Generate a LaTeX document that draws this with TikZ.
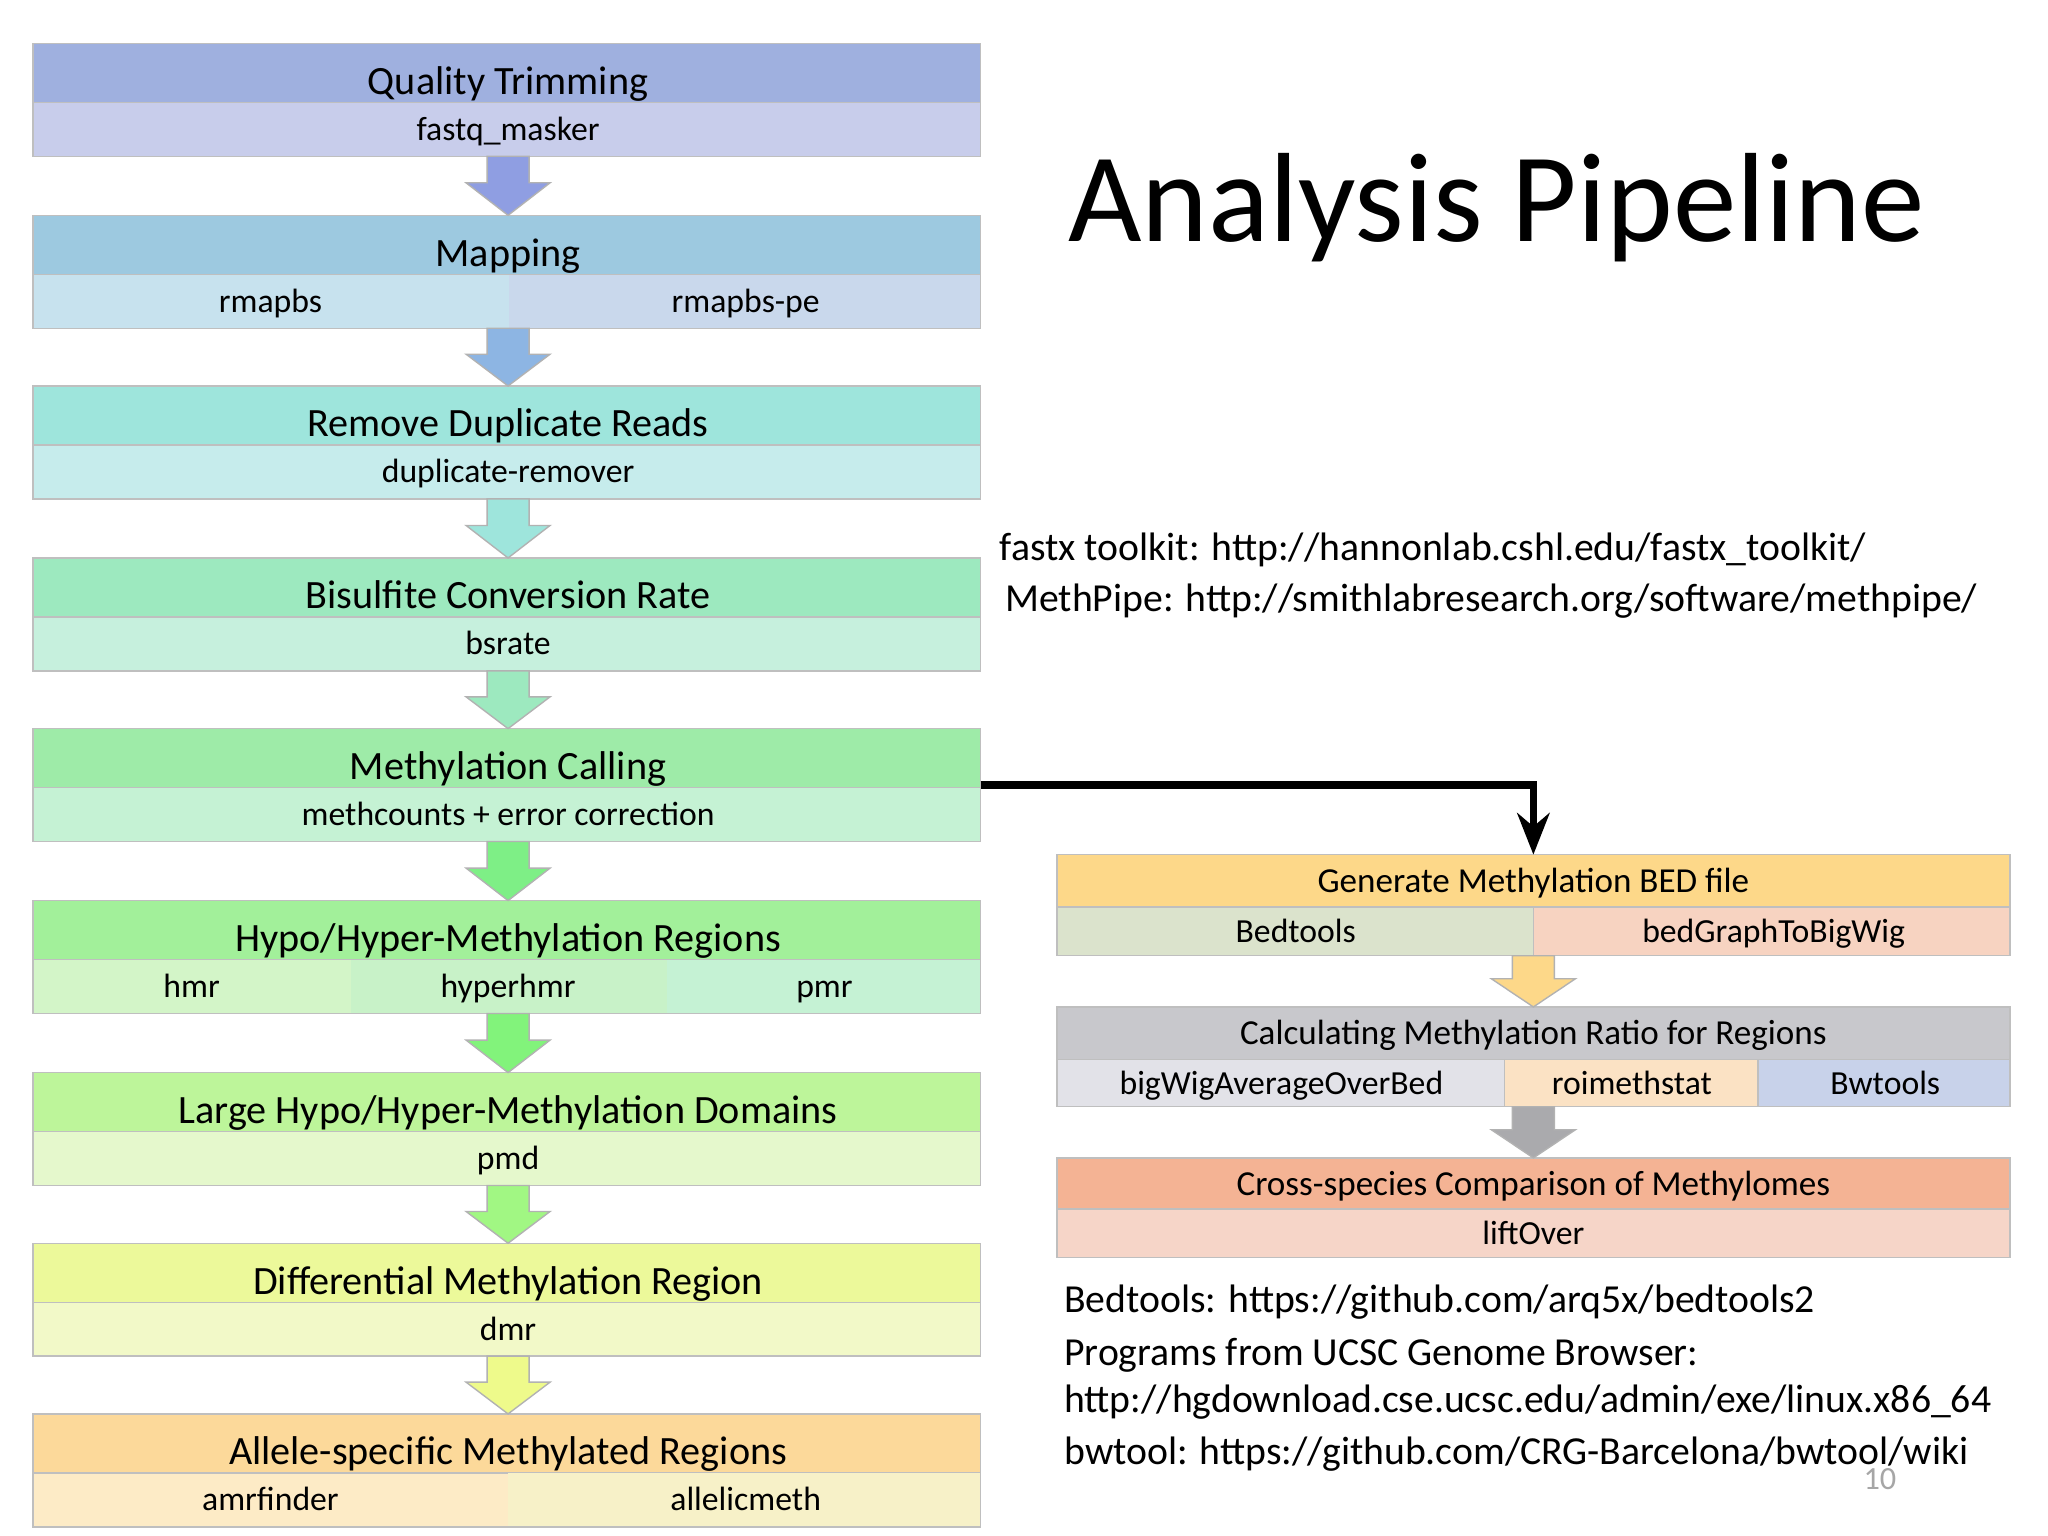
\documentclass[tikz,border=0pt]{standalone}
\usepackage{fontspec}
\usetikzlibrary{arrows.meta}
\setmainfont{Carlito}
\begin{document}
\begin{tikzpicture}[x=0.01cm,y=-0.01cm,
 every node/.style={text height=0.72em,text depth=0.22em},
 hd/.style={font=\fontsize{8.7}{10}\selectfont},
 sb/.style={font=\fontsize{7.3}{9}\selectfont},
 rhd/.style={font=\fontsize{7.6}{9}\selectfont},
 url/.style={font=\fontsize{8.6}{11}\selectfont,anchor=west,inner sep=0},
 bx/.style={draw=black!25,line width=0.3pt}]
\useasboundingbox (0,0) rectangle (1560,1170);
\fill[white] (0,0) rectangle (1560,1170);
\newcommand{\myarrow}[4]{% x, y0, y1, color
 \fill[#4,draw=black!30,line width=0.3pt] ({#1-16},#2) -- ({#1+16},#2) -- ({#1+16},{#2+0.45*(#3-#2)}) -- ({#1+32},{#2+0.45*(#3-#2)}) -- (#1,#3) -- ({#1-32},{#2+0.45*(#3-#2)}) -- ({#1-16},{#2+0.45*(#3-#2)}) -- cycle;}
\newcommand{\lbox}[6]{% top, headcolor, subcolor, name, headtext, subtext
 \fill[#2,bx] (25,#1) rectangle (747,{#1+45});
 \fill[#3,bx] (25,{#1+45}) rectangle (747,{#1+86});
 \node[hd] (#4) at (387,{#1+30}) {#5};
 \node[sb] (#4s) at (387,{#1+65}) {#6};}
\definecolor{h1}{HTML}{9FB0DF}\definecolor{s1}{HTML}{C8CDEB}
\definecolor{h2}{HTML}{9DC9E0}\definecolor{s2}{HTML}{C7E2EE}\definecolor{s2b}{HTML}{C9D8EC}
\definecolor{h3}{HTML}{9EE5DC}\definecolor{s3}{HTML}{C6ECEC}
\definecolor{h4}{HTML}{9DE9BF}\definecolor{s4}{HTML}{C6F0DD}
\definecolor{h5}{HTML}{9EEBA8}\definecolor{s5}{HTML}{C5F2D4}
\definecolor{h6}{HTML}{A2F09A}\definecolor{s6}{HTML}{D3F5C8}\definecolor{s6b}{HTML}{C8F2C8}
\definecolor{h7}{HTML}{BDF59A}\definecolor{s7}{HTML}{E5F8CC}
\definecolor{h8}{HTML}{ECF99A}\definecolor{s8}{HTML}{F2F9C8}
\definecolor{h9}{HTML}{FCD99A}\definecolor{s9}{HTML}{FDEBC6}\definecolor{s9b}{HTML}{F7F1C8}
\lbox{33}{h1}{s1}{b1}{Quality Trimming}{fastq\_masker}
\lbox{164}{h2}{s2}{b2}{Mapping}{}
\fill[s2b] (388,209.3) rectangle (746.7,249.7);
\node[sb] at (206,229) {rmapbs};
\node[sb] at (568,229) {rmapbs-pe};
\lbox{294}{h3}{s3}{b3}{Remove Duplicate Reads}{duplicate-remover}
\lbox{425}{h4}{s4}{b4}{Bisulfite Conversion Rate}{bsrate}
\lbox{555}{h5}{s5}{b5}{Methylation Calling}{methcounts + error correction}
\lbox{686}{h6}{s6}{b6}{Hypo/Hyper-Methylation Regions}{}
\fill[s6b] (267,731.3) rectangle (508,771.7);
\fill[s5] (508,731.3) rectangle (746.7,771.7);
\node[sb] at (146,751) {hmr};
\node[sb] at (387,751) {hyperhmr};
\node[sb] at (628,751) {pmr};
\lbox{817}{h7}{s7}{b7}{Large Hypo/Hyper-Methylation Domains}{pmd}
\lbox{947}{h8}{s8}{b8}{Differential Methylation Region}{dmr}
\lbox{1077}{h9}{s9}{b9}{Allele-specific Methylated Regions}{}
\fill[s9b] (387,1122.3) rectangle (746.7,1162.7);
\node[sb] at (206,1142) {amrfinder};
\node[sb] at (568,1142) {allelicmeth};
\myarrow{387}{119}{164}{h1!90!blue}
\myarrow{387}{250}{294}{h2!90!blue}
\myarrow{387}{380}{425}{h3}
\myarrow{387}{511}{555}{h4}
\myarrow{387}{641}{686}{h5!80!green}
\myarrow{387}{772}{817}{h6!80!green}
\myarrow{387}{903}{947}{h7!85!green}
\myarrow{387}{1033}{1077}{h8!90!yellow}
\definecolor{r1}{HTML}{FDD889}\definecolor{r1a}{HTML}{DBE3CC}\definecolor{r1b}{HTML}{F7D3C1}
\definecolor{r2}{HTML}{C8C8CC}\definecolor{r2a}{HTML}{E2E2E8}\definecolor{r2b}{HTML}{FBE2C4}\definecolor{r2c}{HTML}{C8D2EA}
\definecolor{r3}{HTML}{F4B394}\definecolor{r3a}{HTML}{F6D5C8}
\fill[r1,bx] (805,651) rectangle (1531,691);
\fill[r1a,bx] (805,691) rectangle (1168,728);
\fill[r1b,bx] (1168,691) rectangle (1531,728);
\node[rhd] (g) at (1168,671) {Generate Methylation BED file};
\node[sb] at (987,709) {Bedtools};
\node[sb] at (1351,709) {bedGraphToBigWig};
\fill[r2,bx] (805,767) rectangle (1531,807);
\fill[r2a,bx] (805,807) rectangle (1146,843);
\fill[r2b,bx] (1146,807) rectangle (1339,843);
\fill[r2c,bx] (1339,807) rectangle (1531,843);
\node[rhd] (c) at (1168,787) {Calculating Methylation Ratio for Regions};
\node[sb] at (976,825) {bigWigAverageOverBed};
\node[sb] at (1243,825) {roimethstat};
\node[sb] at (1436,825) {Bwtools};
\fill[r3,bx] (805,882) rectangle (1531,921);
\fill[r3a,bx] (805,921) rectangle (1531,958);
\node[rhd] (x) at (1168,902) {Cross-species Comparison of Methylomes};
\node[sb] at (1168,939) {liftOver};
\myarrow{1168}{728}{767}{r1}
\myarrow{1168}{843}{882}{r2!85!black}
\coordinate (gt) at (1168,651);
\coordinate (ms) at (747,598);
\draw[line width=1.6pt,-{Stealth[length=9pt,width=7pt]}] (ms) -| (gt);
\node[font=\fontsize{27.5}{30}\selectfont] at (1140,175) {Analysis Pipeline};
\node[url] at (761,418) {fastx toolkit: http://hannonlab.cshl.edu/fastx\_toolkit/};
\node[url] at (765,457) {MethPipe: http://smithlabresearch.org/software/methpipe/};
\node[url] at (810,991) {Bedtools: https://github.com/arq5x/bedtools2};
\node[url] at (810,1031) {Programs from UCSC Genome Browser:};
\node[url] at (810,1067) {http://hgdownload.cse.ucsc.edu/admin/exe/linux.x86\_64};
\node[url] at (810,1107) {bwtool: https://github.com/CRG-Barcelona/bwtool/wiki};
\node[font=\fontsize{7}{8}\selectfont,text=black!35] at (1432,1126) {10};
\end{tikzpicture}
\end{document}
